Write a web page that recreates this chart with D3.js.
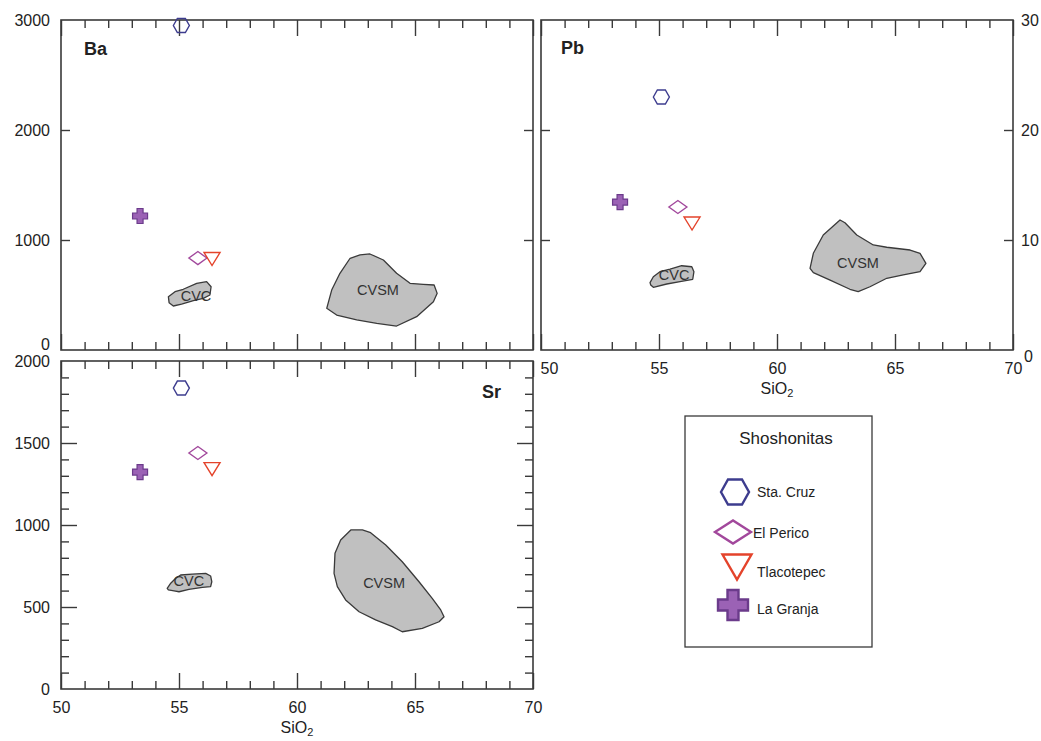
<!DOCTYPE html>
<html>
<head>
<meta charset="utf-8">
<script src="https://cdn.jsdelivr.net/npm/d3@7"></script>
<style>
html,body{margin:0;padding:0;background:#fff;}
svg{display:block;font-family:"Liberation Sans",Arial,sans-serif;}
</style>
</head>
<body>
<svg id="chart" width="1041" height="741"></svg>
<script>
// ---------- DATA ----------
const localities = ["Sta. Cruz", "El Perico", "Tlacotepec", "La Granja"];
const symbols = ["hexagon", "diamond", "triangle", "cross"];
const siO2 = [55.1, 55.8, 56.4, 53.35];
const baValues = [2950, 836, 827, 1218];
const pbValues = [23.0, 13.0, 11.5, 13.45];
const srValues = [1835, 1439, 1341, 1323];

const xTicks = [50, 55, 60, 65, 70];
const baTicks = [0, 1000, 2000, 3000];
const pbTicks = [0, 10, 20, 30];
const srTicks = [0, 500, 1000, 1500, 2000];

// fields [SiO2, value]
const baCVC = [[54.55,485],[54.83,530],[55.18,552],[55.75,606],[56.17,621],[56.36,575],[56.31,500],[56.03,470],[55.61,448],[55.11,418],[54.76,400],[54.58,430]];
const baCVSM = [[61.26,379],[61.47,545],[61.82,697],[62.25,834],[62.67,864],[63.09,873],[63.66,818],[64.22,697],[64.79,606],[65.35,597],[65.81,591],[65.94,515],[65.78,439],[65.07,303],[64.22,218],[63.38,243],[62.53,273],[61.68,318]];
const pbCVC = [[54.62,6.12],[54.76,6.66],[55.04,7.12],[55.47,7.36],[55.96,7.66],[56.39,7.57],[56.48,7.12],[56.43,6.43],[55.89,6.21],[55.33,6.0],[54.76,5.7],[54.65,5.91]];
const pbCVSM = [[61.40,7.43],[61.54,8.79],[61.96,10.45],[62.67,11.82],[62.88,11.57],[63.38,10.45],[64.08,9.55],[64.65,9.34],[65.64,9.09],[66.06,8.79],[66.31,7.88],[66.06,7.12],[65.35,6.82],[64.65,6.52],[63.94,5.75],[63.44,5.3],[63.09,5.52],[62.25,6.36],[61.54,7.03]];
const srCVC = [[54.50,614],[54.65,645],[54.86,675],[55.07,695],[55.56,701],[56.13,705],[56.34,689],[56.39,654],[56.34,624],[55.99,620],[55.42,608],[55.0,593],[54.79,598],[54.55,604]];
const srCVSM = [[62.28,970],[62.77,970],[63.12,953],[63.76,878],[64.46,776],[65.17,654],[65.73,553],[66.09,482],[66.23,441],[66.02,410],[65.31,370],[64.46,349],[64.04,380],[63.33,421],[62.63,471],[62.06,543],[61.71,624],[61.57,705],[61.61,827],[61.85,909]];
const fieldNames = ["CVC", "CVSM"];
const baFieldLabels = [[55.72,491],[63.43,545]];
const pbFieldLabels = [[55.64,6.8],[63.43,7.9]];
const srFieldLabels = [[55.42,659],[63.69,646]];

// ---------- STYLE ----------
const strokeCol = ["#3d3c8e", "#a2489c", "#e4432b", "#6b3b8b"];
const fillCol = ["none", "none", "none", "#9b62b5"];
const axisCol = "#3a3a3a";

function shapePath(type, w, h, t) {
  const a = w/2, b = h/2;
  let pts;
  if (type === "hexagon") pts = [[-a,0],[-a/2,-b],[a/2,-b],[a,0],[a/2,b],[-a/2,b]];
  else if (type === "diamond") pts = [[-a,0],[0,-b],[a,0],[0,b]];
  else if (type === "triangle") pts = [[-a,-b],[a,-b],[0,b]];
  else { const c = t/2; pts = [[-c,-b],[c,-b],[c,-c],[a,-c],[a,c],[c,c],[c,b],[-c,b],[-c,c],[-a,c],[-a,-c],[-c,-c]]; }
  return "M" + pts.map(p => p.join(",")).join("L") + "Z";
}
const chartSize = {hexagon:[16,14], diamond:[18,13], triangle:[16,13], cross:[15,15]};

const svg = d3.select("#chart");

function panel(opts) {
  const g = svg.append("g");
  const x = d3.scaleLinear().domain([50,70]).range([opts.x0, opts.x1]);
  const y = d3.scaleLinear().domain(opts.ydom).range([opts.y1, opts.y0]);

  // fields
  const line = d3.line().x(d => x(d[0])).y(d => y(d[1])).curve(d3.curveLinearClosed);
  opts.fields.forEach((f, i) => {
    g.append("path").attr("d", line(f)).attr("fill", "#c0c0c0")
      .attr("stroke", "#3a3a3a").attr("stroke-width", 1.3).attr("stroke-linejoin","round");
  });
  opts.fieldLabels.forEach((p, i) => {
    g.append("text").attr("x", x(p[0])).attr("y", y(p[1])).attr("dy","0.36em")
      .attr("text-anchor","middle").attr("font-size", 14.5).attr("fill","#333").text(fieldNames[i]);
  });

  // ticks (inward)
  const minorX = d3.range(50, 71, 1).filter(v => v % 5 !== 0);
  const majorX = d3.range(50, 71, 5);
  const addAxis = (gen, transform, vals, len) => {
    const a = g.append("g").attr("transform", transform)
      .call(gen.tickValues(vals).tickSize(-len).tickFormat(""));
    a.select(".domain").remove();
    a.selectAll("line").attr("stroke", axisCol).attr("stroke-width", 1.4);
  };
  addAxis(d3.axisBottom(x), `translate(0,${opts.y1})`, minorX, 8);
  addAxis(d3.axisBottom(x), `translate(0,${opts.y1})`, majorX, 16);
  addAxis(d3.axisTop(x), `translate(0,${opts.y0})`, minorX, 8);
  addAxis(d3.axisTop(x), `translate(0,${opts.y0})`, majorX, 16);
  opts.yTicks.forEach(t => {
    addAxis(d3.axisLeft(y), `translate(${opts.x0},0)`, t.vals, t.len);
    addAxis(d3.axisRight(y), `translate(${opts.x1},0)`, t.vals, t.len);
  });

  // frame
  g.append("rect").attr("x", opts.x0).attr("y", opts.y0)
    .attr("width", opts.x1 - opts.x0).attr("height", opts.y1 - opts.y0)
    .attr("fill","none").attr("stroke", axisCol).attr("stroke-width", 1.6);

  // tick labels
  if (opts.yLabels) {
    const side = opts.yLabels.side;
    const gen = side === "left" ? d3.axisLeft(y) : d3.axisRight(y);
    const a = g.append("g").attr("transform", `translate(${side==="left"?opts.x0:opts.x1},0)`)
      .call(gen.tickValues(opts.yLabels.vals).tickSize(0).tickPadding(side==="left"?11:8).tickFormat(d3.format("d")));
    a.select(".domain").remove();
    a.selectAll("text").attr("font-size", 16).attr("fill", "#222").attr("font-family", "Liberation Sans, Arial, sans-serif");
    if (opts.yLabels.adjust) opts.yLabels.adjust(a);
  }
  if (opts.xLabels) {
    const a = g.append("g").attr("transform", `translate(0,${opts.y1})`)
      .call(d3.axisBottom(x).tickValues(xTicks).tickSize(0).tickPadding(13).tickFormat(d3.format("d")));
    a.select(".domain").remove();
    a.selectAll("text").attr("font-size", 16).attr("fill", "#222").attr("font-family", "Liberation Sans, Arial, sans-serif");
    if (opts.xLabels.adjust) opts.xLabels.adjust(a);
    const title = g.append("text").attr("x", (opts.x0 + opts.x1)/2).attr("y", opts.y1 + 44)
      .attr("text-anchor","middle").attr("font-size", 16).attr("fill","#222");
    title.append("tspan").text("SiO");
    title.append("tspan").attr("font-size", 11).attr("dy", 3).text("2");
  }

  // element name
  g.append("text").attr("x", opts.name.x).attr("y", opts.name.y).attr("text-anchor", opts.name.anchor)
    .attr("font-size", 18).attr("font-weight", "bold").attr("fill", "#222").text(opts.name.text);

  // points
  opts.values.forEach((v, i) => {
    const s = symbols[i];
    const [w, h] = chartSize[s];
    g.append("path").attr("d", shapePath(s, w, h, 6))
      .attr("transform", `translate(${x(siO2[i])},${y(v)})`)
      .attr("fill", fillCol[i]).attr("stroke", strokeCol[i])
      .attr("stroke-width", s === "cross" ? 1.2 : 1.4).attr("stroke-linejoin","miter");
  });
}

// Ba panel
panel({
  x0: 61, x1: 533, y0: 20, y1: 350, ydom: [0, 3000],
  fields: [baCVC, baCVSM], fieldLabels: baFieldLabels, values: baValues,
  yTicks: [{vals: [1000, 2000], len: 9}],
  yLabels: {side: "left", vals: baTicks, adjust: a => a.selectAll(".tick").filter(d => d === 0).select("text").attr("dy", "-0.05em")},
  name: {text: "Ba", x: 84, y: 55, anchor: "start"}
});

// Pb panel
panel({
  x0: 541, x1: 1013, y0: 20, y1: 350, ydom: [0, 30],
  fields: [pbCVC, pbCVSM], fieldLabels: pbFieldLabels, values: pbValues,
  yTicks: [{vals: [10, 20], len: 9}],
  yLabels: {side: "right", vals: pbTicks, adjust: a => a.selectAll(".tick").filter(d => d === 0).select("text").attr("dy", "0.7em").attr("dx", 3)},
  xLabels: {adjust: a => {
    a.selectAll(".tick").filter(d => d === 50).select("text").attr("dx", 8);
  }},
  name: {text: "Pb", x: 561, y: 54, anchor: "start"}
});

// Sr panel
panel({
  x0: 61, x1: 533, y0: 361, y1: 689, ydom: [0, 2000],
  fields: [srCVC, srCVSM], fieldLabels: srFieldLabels, values: srValues,
  yTicks: [{vals: d3.range(100, 2000, 100).filter(v => v % 500 !== 0), len: 8}, {vals: [500, 1000, 1500], len: 16}],
  yLabels: {side: "left", vals: srTicks},
  xLabels: {},
  name: {text: "Sr", x: 501, y: 398, anchor: "end"}
});

// Legend
const lg = svg.append("g");
lg.append("rect").attr("x", 685).attr("y", 416).attr("width", 187).attr("height", 231)
  .attr("fill", "#fff").attr("stroke", "#3a3a3a").attr("stroke-width", 1.3);
lg.append("text").attr("x", 786).attr("y", 444).attr("text-anchor","middle")
  .attr("font-size", 17).attr("fill","#222").text("Shoshonitas");
const legendSize = {hexagon:[28,25], diamond:[36,23], triangle:[29,25], cross:[30,30]};
const legendSym = [[735,492],[733,532],[737,567],[733,605]];
const legendTxt = [[757,497],[753,538],[757,577],[757,614]];
localities.forEach((name, i) => {
  const s = symbols[i];
  const [w, h] = legendSize[s];
  lg.append("path").attr("d", shapePath(s, w, h, 11))
    .attr("transform", `translate(${legendSym[i][0]},${legendSym[i][1]})`)
    .attr("fill", fillCol[i]).attr("stroke", strokeCol[i]).attr("stroke-width", 2.4);
  lg.append("text").attr("x", legendTxt[i][0]).attr("y", legendTxt[i][1])
    .attr("font-size", 14).attr("fill", "#222").text(name);
});
</script>
</body>
</html>
